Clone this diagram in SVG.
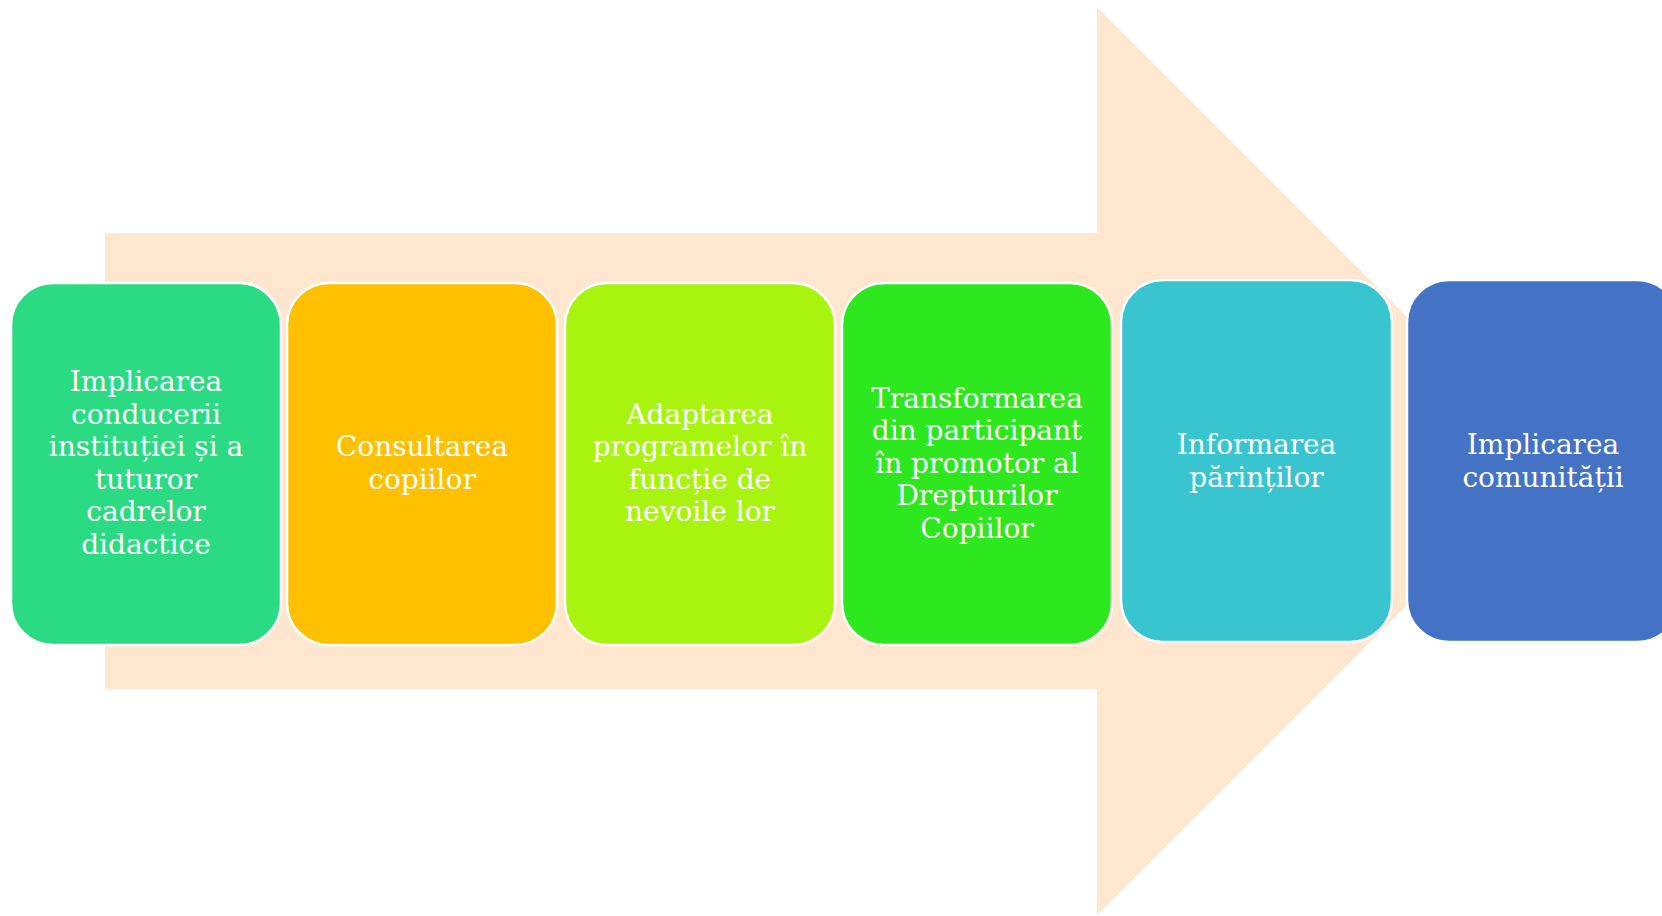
<svg xmlns="http://www.w3.org/2000/svg" width="1662" height="916" viewBox="0 0 1662 916">
<style>
.box{stroke:#ffffff;stroke-width:2.5}
.t{font-family:"DejaVu Serif","Liberation Serif",serif;font-size:28px;fill:#ffffff;text-anchor:middle}
</style>
<rect width="1662" height="916" fill="#ffffff"/>
<g id="arrow">
<polygon points="105,233 1097,233 1097,7 1551,461 1097,915 1097,689 105,689" fill="#FEE7CE"/>
</g>
<g id="connectors"></g>
<g id="n1">
<rect class="box" x="11" y="283" width="270" height="362" rx="42" ry="42" fill="#2BDB83"/>
<text class="t"><tspan x="146" y="391">Implicarea</tspan><tspan x="146" y="423.5">conducerii</tspan><tspan x="146" y="456">instituției și a</tspan><tspan x="146" y="488.5">tuturor</tspan><tspan x="146" y="521">cadrelor</tspan><tspan x="146" y="553.5">didactice</tspan></text>
</g>
<g id="n2">
<rect class="box" x="287" y="283" width="270" height="362" rx="42" ry="42" fill="#FFC000"/>
<text class="t"><tspan x="422" y="456">Consultarea</tspan><tspan x="422" y="488.5">copiilor</tspan></text>
</g>
<g id="n3">
<rect class="box" x="565" y="283" width="270" height="362" rx="42" ry="42" fill="#A9F40F"/>
<text class="t"><tspan x="700" y="423.5">Adaptarea</tspan><tspan x="700" y="456">programelor în</tspan><tspan x="700" y="488.5">funcție de</tspan><tspan x="700" y="521">nevoile lor</tspan></text>
</g>
<g id="n4">
<rect class="box" x="842" y="283" width="270" height="362" rx="42" ry="42" fill="#2EE81F"/>
<text class="t"><tspan x="977" y="407.5">Transformarea</tspan><tspan x="977" y="440">din participant</tspan><tspan x="977" y="472.5">în promotor al</tspan><tspan x="977" y="505">Drepturilor</tspan><tspan x="977" y="537.5">Copiilor</tspan></text>
</g>
<g id="n5">
<rect class="box" x="1121" y="280" width="271" height="362" rx="42" ry="42" fill="#38C5CF"/>
<text class="t"><tspan x="1256.5" y="454">Informarea</tspan><tspan x="1256.5" y="486.5">părinților</tspan></text>
</g>
<g id="n6">
<rect class="box" x="1407" y="280" width="272" height="362" rx="42" ry="42" fill="#4472C4"/>
<text class="t"><tspan x="1543" y="454">Implicarea</tspan><tspan x="1543" y="486.5">comunității</tspan></text>
</g>
</svg>
